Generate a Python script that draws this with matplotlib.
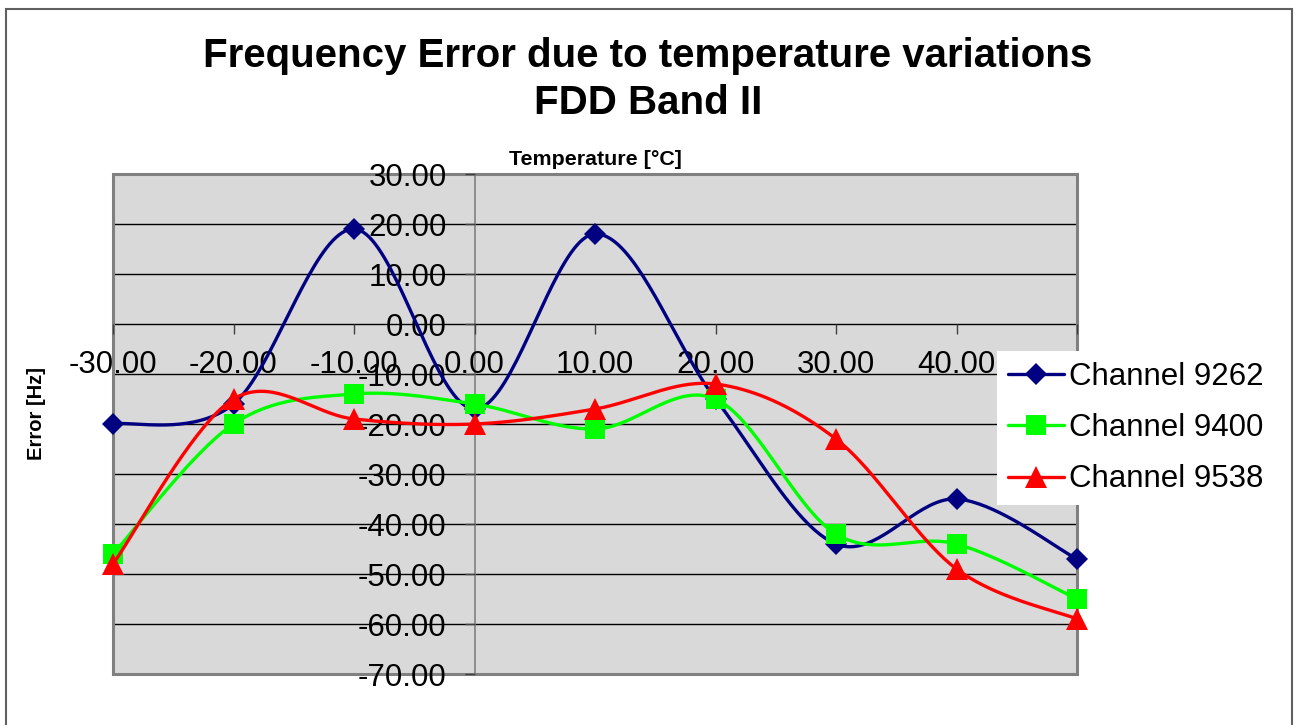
import numpy as np
import matplotlib
matplotlib.use("Agg")
import matplotlib.pyplot as plt
from matplotlib.patches import Rectangle

plt.rcParams["font.family"] = ["Liberation Sans", "DejaVu Sans"]

# ---- data ----
temps = [-30, -20, -10, 0, 10, 20, 30, 40, 50]
ch9262 = [-20, -16, 19, -17, 18, -15, -44, -35, -47]
ch9400 = [-46, -20, -14, -16, -21, -15, -42, -44, -55]
ch9538 = [-48, -15, -19, -20, -17, -12, -23, -49, -59]
series_names = ["Channel 9262", "Channel 9400", "Channel 9538"]
yticks = [-70, -60, -50, -40, -30, -20, -10, 0, 10, 20, 30]
xticks = [-30, -20, -10, 0, 10, 20, 30, 40, 50]

# ---- styles ----
COLORS = ["#000080", "#00FF00", "#FF0000"]
MARKERS = ["D", "s", "^"]
MSIZES = [11, 14.5, 16]
NSEG = 40
W, H = 1301, 725


def smooth(xs, ys):
    """Excel-like smoothed line: Catmull-Rom bezier through the points."""
    p = np.column_stack([xs, ys]).astype(float)
    n = len(p)
    t = np.linspace(0, 1, NSEG + 1)[:, None]
    out = []
    for i in range(n - 1):
        p0 = p[i - 1] if i > 0 else p[i]
        p3 = p[i + 2] if i + 2 < n else p[i + 1]
        c1 = p[i] + (p[i + 1] - p0) / 6.0
        c2 = p[i + 1] - (p3 - p[i]) / 6.0
        seg = ((1 - t) ** 3 * p[i] + 3 * (1 - t) ** 2 * t * c1
               + 3 * (1 - t) * t ** 2 * c2 + t ** 3 * p[i + 1])
        out.append(seg if i == n - 2 else seg[:-1])
    c = np.vstack(out)
    return c[:, 0], c[:, 1]


fig = plt.figure(figsize=(W / 100, H / 100), dpi=100)
ax = fig.add_axes([113 / W, 1 - 674 / H, 964 / W, 500 / H])
ax.set_facecolor("#D9D9D9")
ax.set_xlim(-30, 50)
ax.set_ylim(-70, 30)

# plot-area border
ax.add_patch(Rectangle((0, 0), 1, 1, transform=ax.transAxes, fill=False,
                       edgecolor="#808080", linewidth=2.2, zorder=1.5,
                       clip_on=False))

# gridlines
for v in yticks[1:-1]:
    if v != 0:
        ax.axhline(v, color="#000000", lw=1.0, zorder=1)

# axes crossing at zero
for s in ["top", "right"]:
    ax.spines[s].set_visible(False)
ax.spines["left"].set_position(("data", 0))
ax.spines["bottom"].set_position(("data", 0))
ax.spines["left"].set_color("#808080")
ax.spines["bottom"].set_color("#000000")
ax.spines["left"].set_linewidth(1.2)
ax.spines["bottom"].set_linewidth(1.0)
ax.spines["left"].set_zorder(1.2)
ax.spines["bottom"].set_zorder(1.2)

ax.set_xticks(xticks)
ax.set_yticks(yticks)
# the 50.00 label sits under the legend box in the reference
ax.set_xticklabels([f"{v:.2f}" if v != 50 else "" for v in xticks])
ax.set_yticklabels([f"{v:.2f}" for v in yticks])
ax.tick_params(axis="x", direction="out", length=7, width=1, color="#404040",
               labelsize=22.5, pad=12)
ax.tick_params(axis="y", direction="out", length=7, width=1, color="#404040",
               labelsize=22.5, pad=13)

ax.set_xlabel("Temperature [°C]", fontsize=15.4, fontweight="bold")
ax.xaxis.set_label_coords(0.5, 1.048)
ax.set_ylabel("Error [Hz]", fontsize=14.5, fontweight="bold")
ax.yaxis.set_label_coords(-0.07, 0.52)

for ys, name, col, mk, ms in zip([ch9262, ch9400, ch9538], series_names,
                                 COLORS, MARKERS, MSIZES):
    cx, cy = smooth(temps, ys)
    ax.plot(cx, cy, color=col, lw=2.4, marker=mk, markersize=ms,
            markevery=[i * NSEG for i in range(len(temps))],
            markeredgewidth=0, label=name, zorder=3, clip_on=False,
            solid_capstyle="round")

leg = ax.legend(loc="upper left", bbox_to_anchor=(997 / W, 1 - 351 / H),
                bbox_transform=fig.transFigure, fontsize=22.5, frameon=True,
                fancybox=False, edgecolor="none", facecolor="white",
                framealpha=1, borderpad=0.35, borderaxespad=0,
                handlelength=1.8, handletextpad=0.15, labelspacing=0.68)
leg.set_zorder(6)

# two-line chart title
fig.text(648 / W, 1 - 67 / H, "Frequency Error due to temperature variations",
         fontsize=29, fontweight="bold", ha="center", va="baseline")
fig.text(648 / W, 1 - 114 / H, "FDD Band II",
         fontsize=29, fontweight="bold", ha="center", va="baseline")

# outer chart border
fig.add_artist(Rectangle((6 / W, -0.01), 1286 / W, 1 - 9 / H + 0.01,
                         transform=fig.transFigure, fill=False,
                         edgecolor="#606060", linewidth=1.5))

fig.savefig("out.png", dpi=100)
